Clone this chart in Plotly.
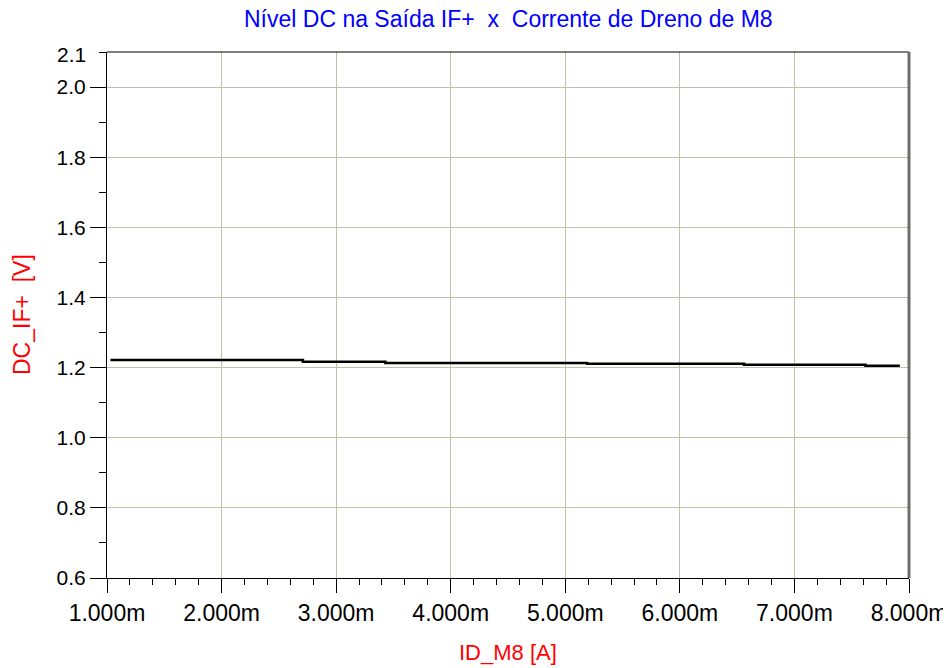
import plotly.graph_objects as go

# Data (x in A, y in V), step-like trace
id_m8 = [1.03e-3, 2.71e-3, 3.43e-3, 5.19e-3, 6.56e-3, 7.62e-3, 7.92e-3]
dc_if = [1.222, 1.217, 1.213, 1.211, 1.208, 1.205, 1.205]

x_tickvals = [1e-3, 2e-3, 3e-3, 4e-3, 5e-3, 6e-3, 7e-3, 8e-3]
x_ticktext = ["1.000m", "2.000m", "3.000m", "4.000m", "5.000m", "6.000m", "7.000m", "8.000m"]
y_tickvals = [0.6, 0.8, 1.0, 1.2, 1.4, 1.6, 1.8, 2.0]
y_ticktext = ["0.6", "0.8", "1.0", "1.2", "1.4", "1.6", "1.8", "2.0"]

FONT = "Liberation Sans, Arial, sans-serif"
GRID = "#c0c0a4"

fig = go.Figure()
fig.add_trace(go.Scatter(x=id_m8, y=dc_if, mode="lines", line_shape="hv",
                         line=dict(color="black", width=2.5), showlegend=False))

fig.update_layout(
    width=951, height=668,
    margin=dict(l=99, r=50, t=44, b=98),
    paper_bgcolor="white", plot_bgcolor="white",
    font=dict(family=FONT, size=21, color="black"),
    xaxis=dict(range=[1e-3, 8e-3], tickmode="array", tickvals=x_tickvals, ticktext=x_ticktext,
               showgrid=True, gridcolor=GRID, gridwidth=1, zeroline=False,
               showline=True, linecolor="black", linewidth=1,
               ticks="outside", ticklen=14, tickcolor="black", tickwidth=1,
               minor=dict(tick0=1e-3, dtick=0.2e-3, ticks="outside", ticklen=6,
                          tickcolor="black", showgrid=False),
               tickfont=dict(size=23, family=FONT)),
    yaxis=dict(range=[0.6, 2.1], tickmode="array", tickvals=y_tickvals, ticktext=y_ticktext,
               showgrid=True, gridcolor=GRID, gridwidth=1, zeroline=False,
               showline=True, linecolor="black", linewidth=1,
               ticks="outside", ticklen=16, tickcolor="black", tickwidth=1,
               minor=dict(tick0=0.7, dtick=0.2, ticks="outside", ticklen=7,
                          tickcolor="black", showgrid=False),
               tickfont=dict(size=21, family=FONT)),
    annotations=[
        dict(text="Nível DC na Saída IF+  x  Corrente de Dreno de M8", xref="paper", yref="paper",
             x=0.5, y=1, yshift=33, xanchor="center", yanchor="middle", showarrow=False,
             font=dict(size=23, color="#0000ff", family=FONT)),
        dict(text="ID_M8 [A]", xref="paper", yref="paper", x=0.5, y=0, yshift=-74,
             xanchor="center", yanchor="middle", showarrow=False,
             font=dict(size=22, color="#ff0000", family=FONT)),
        dict(text="DC_IF+  [V]", xref="paper", yref="paper", x=0, xshift=-85, y=0.5,
             xanchor="center", yanchor="middle", textangle=-90, showarrow=False,
             font=dict(size=23, color="#ff0000", family=FONT)),
        dict(text="2.1", xref="paper", yref="y", x=0, xshift=-19, y=2.1, yshift=-2,
             xanchor="right", yanchor="middle", showarrow=False,
             font=dict(size=21, color="black", family=FONT)),
    ],
    shapes=[
        dict(type="line", xref="paper", yref="paper", x0=0, x1=1, y0=1, y1=1,
             line=dict(color="black", width=1)),
        dict(type="line", xref="paper", yref="paper", x0=1, x1=1, y0=0, y1=1,
             line=dict(color="#6e6e6e", width=3)),
    ],
)

fig.write_html("out.html")
